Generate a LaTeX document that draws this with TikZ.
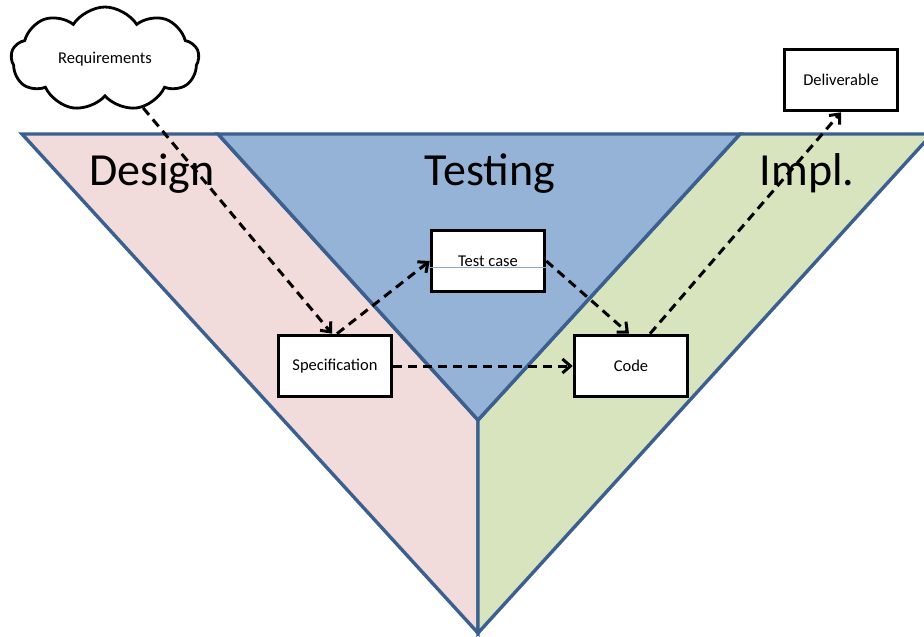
\documentclass[tikz,border=0pt]{standalone}
\usepackage{fontspec}
\setmainfont{Carlito}
\usetikzlibrary{arrows.meta,shapes.symbols}
\definecolor{edgeblue}{HTML}{3B6090}
\definecolor{designpink}{HTML}{F2DCDB}
\definecolor{testblue}{HTML}{95B3D7}
\definecolor{implgreen}{HTML}{D7E4BD}
\definecolor{thinblue}{HTML}{8EA9C8}
\begin{document}
\begin{tikzpicture}[x=1pt,y=-1pt,
  region/.style={draw=edgeblue,line width=3.4pt,line join=miter},
  box/.style={draw=black,line width=3.6pt,fill=white,minimum width=113pt,minimum height=61pt,inner sep=0pt,font=\fontsize{16.5}{18}\selectfont},
  flow/.style={draw=black,line width=3pt,dash pattern=on 9pt off 6pt,-{Straight Barb[length=8pt,width=14pt,line width=3pt]}},
  big/.style={font=\fontsize{46}{50}\selectfont,anchor=base,inner sep=0pt}]
\useasboundingbox (0,0) rectangle (924,637);
\begin{scope}
  \clip (0,0) rectangle (924,637);
  \filldraw[region,fill=designpink] (22,134) -- (218,134) -- (478,420) -- (478,633) -- cycle;
  \filldraw[region,fill=implgreen] (740,134) -- (932,134) -- (478,633) -- (478,420) -- cycle;
  \filldraw[region,fill=testblue] (218,134) -- (740,134) -- (478,420) -- cycle;
\end{scope}
\node[big] (design) at (152,185) {Design};
\node[big] (testing) at (490,185) {Testing};
\node[big] (impl) at (807,185) {Impl.};
\node[cloud,draw=black,line width=2.8pt,fill=white,cloud puffs=9,cloud puff arc=115,aspect=1.9,minimum width=188pt,minimum height=104pt,inner sep=0pt,font=\fontsize{16.5}{18}\selectfont] (req) at (105,59) {Requirements};
\node[box] (deliv) at (841,80) {Deliverable};
\node[box] (test) at (488,261) {Test case};
\draw[thinblue,line width=0.8pt] ([yshift=-6pt]test.west) -- ([yshift=-6pt]test.east);
\node[box] (spec) at (335,366) {Specification};
\node[box] (code) at (631,366) {Code};
\draw[flow] (req.-52) -- ([xshift=-3pt]spec.north);
\draw[flow] ([xshift=2pt]spec.north) -- (test.west);
\draw[flow] (test.east) -- ([xshift=-2pt]code.north);
\draw[flow] (spec.east) -- (code.west);
\draw[flow] ([xshift=19pt]code.north) -- (deliv.south);
\end{tikzpicture}
\end{document}
